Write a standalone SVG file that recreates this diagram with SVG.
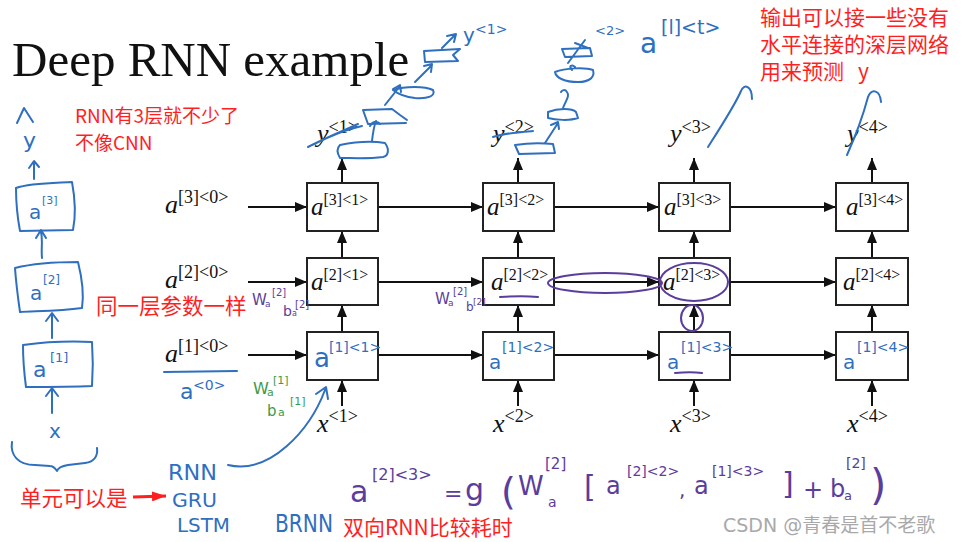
<svg xmlns="http://www.w3.org/2000/svg" width="964" height="542" viewBox="0 0 964 542">
<style>
.box{fill:#fff;stroke:#222;stroke-width:2}
.conn{stroke:#111;stroke-width:2;fill:none;marker-end:url(#ah)}
.m{font-family:"Liberation Serif",serif;fill:#111}
.it{font-style:italic}
.red{font-family:"Noto Sans CJK SC",sans-serif;fill:#ff1f1f}
.hb{stroke:#2f6fbf;fill:none;stroke-width:2;stroke-linecap:round;stroke-linejoin:round}
.hbt{font-family:"DejaVu Sans",sans-serif;fill:#2f6fbf}
.hp{stroke:#5b3d9c;fill:none;stroke-width:2;stroke-linecap:round;stroke-linejoin:round}
.hpt{font-family:"DejaVu Sans",sans-serif;fill:#5b3d9c}
.hgt{font-family:"DejaVu Sans",sans-serif;fill:#3d9a48}
</style>
<defs>
<marker id="ah" markerUnits="userSpaceOnUse" markerWidth="12" markerHeight="10" refX="12" refY="5" orient="auto"><path d="M0,0 L12,5 L0,10 z" fill="#111"/></marker>
<marker id="ahr" markerUnits="userSpaceOnUse" markerWidth="14" markerHeight="10" refX="14" refY="5" orient="auto"><path d="M0,0 L14,5 L0,10 z" fill="#ff1f1f"/></marker>
</defs>
<rect width="964" height="542" fill="#fff"/>
<text x="12" y="76" font-family="Liberation Serif,serif" font-size="49" fill="#111">Deep RNN example</text>

<!-- connectors -->
<g id="connectors">
<line class="conn" x1="248" y1="207" x2="307" y2="207"/>
<line class="conn" x1="248" y1="282" x2="307" y2="282"/>
<line class="conn" x1="248" y1="355" x2="307" y2="355"/>
<line class="conn" x1="378" y1="207" x2="483" y2="207"/>
<line class="conn" x1="554" y1="207" x2="659" y2="207"/>
<line class="conn" x1="730" y1="207" x2="836" y2="207"/>
<line class="conn" x1="378" y1="282" x2="483" y2="282"/>
<line class="conn" x1="554" y1="282" x2="659" y2="282"/>
<line class="conn" x1="730" y1="282" x2="836" y2="282"/>
<line class="conn" x1="378" y1="355" x2="483" y2="355"/>
<line class="conn" x1="554" y1="355" x2="659" y2="355"/>
<line class="conn" x1="730" y1="355" x2="836" y2="355"/>
<line class="conn" x1="342" y1="406" x2="342" y2="380"/>
<line class="conn" x1="342" y1="332" x2="342" y2="305"/>
<line class="conn" x1="342" y1="258" x2="342" y2="231"/>
<line class="conn" x1="342" y1="183" x2="342" y2="158"/>
<line class="conn" x1="518" y1="406" x2="518" y2="380"/>
<line class="conn" x1="518" y1="332" x2="518" y2="305"/>
<line class="conn" x1="518" y1="258" x2="518" y2="231"/>
<line class="conn" x1="518" y1="183" x2="518" y2="158"/>
<line class="conn" x1="694" y1="406" x2="694" y2="380"/>
<line class="conn" x1="694" y1="332" x2="694" y2="305"/>
<line class="conn" x1="694" y1="258" x2="694" y2="231"/>
<line class="conn" x1="694" y1="183" x2="694" y2="158"/>
<line class="conn" x1="872" y1="406" x2="872" y2="380"/>
<line class="conn" x1="872" y1="332" x2="872" y2="305"/>
<line class="conn" x1="872" y1="258" x2="872" y2="231"/>
<line class="conn" x1="872" y1="183" x2="872" y2="158"/>
</g>

<!-- initial activations -->
<g id="a3_0"><text class="m" x="165" y="213"><tspan class="it" font-size="26">a</tspan><tspan font-size="18" dy="-10">[3]&lt;0&gt;</tspan></text></g>
<g id="a2_0"><text class="m" x="165" y="288"><tspan class="it" font-size="26">a</tspan><tspan font-size="18" dy="-10">[2]&lt;0&gt;</tspan></text></g>
<g id="a1_0"><text class="m" x="165" y="362"><tspan class="it" font-size="26">a</tspan><tspan font-size="18" dy="-10">[1]&lt;0&gt;</tspan></text></g>

<!-- layer 3 -->
<g id="a3_1"><rect class="box" x="307" y="183" width="71" height="48"/><text class="m" x="311" y="215"><tspan class="it" font-size="25">a</tspan><tspan font-size="16" dy="-10">[3]&lt;1&gt;</tspan></text></g>
<g id="a3_2"><rect class="box" x="483" y="183" width="71" height="48"/><text class="m" x="487" y="215"><tspan class="it" font-size="25">a</tspan><tspan font-size="16" dy="-10">[3]&lt;2&gt;</tspan></text></g>
<g id="a3_3"><rect class="box" x="659" y="183" width="71" height="48"/><text class="m" x="664" y="215"><tspan class="it" font-size="25">a</tspan><tspan font-size="16" dy="-10">[3]&lt;3&gt;</tspan></text></g>
<g id="a3_4"><rect class="box" x="836" y="183" width="72" height="48"/><text class="m" x="846" y="215"><tspan class="it" font-size="25">a</tspan><tspan font-size="16" dy="-10">[3]&lt;4&gt;</tspan></text></g>
<!-- layer 2 -->
<g id="a2_1"><rect class="box" x="307" y="258" width="71" height="47"/><text class="m" x="311" y="290"><tspan class="it" font-size="25">a</tspan><tspan font-size="16" dy="-10">[2]&lt;1&gt;</tspan></text></g>
<g id="a2_2"><rect class="box" x="483" y="258" width="71" height="47"/><text class="m" x="491" y="290"><tspan class="it" font-size="25">a</tspan><tspan font-size="16" dy="-10">[2]&lt;2&gt;</tspan></text></g>
<g id="a2_3"><rect class="box" x="659" y="258" width="71" height="47"/><text class="m" x="663" y="290"><tspan class="it" font-size="25">a</tspan><tspan font-size="16" dy="-10">[2]&lt;3&gt;</tspan></text></g>
<g id="a2_4"><rect class="box" x="836" y="258" width="72" height="47"/><text class="m" x="843" y="290"><tspan class="it" font-size="25">a</tspan><tspan font-size="16" dy="-10">[2]&lt;4&gt;</tspan></text></g>
<!-- layer 1 (handwritten labels) -->
<g id="a1_1"><rect class="box" x="307" y="332" width="71" height="48"/><text class="hbt" x="314" y="367" font-size="26">a</text><text class="hbt" x="329" y="352" font-size="14">[1]&lt;1&gt;</text></g>
<g id="a1_2"><rect class="box" x="483" y="332" width="71" height="48"/><text class="hbt" x="489" y="369" font-size="20">a</text><text class="hbt" x="502" y="352" font-size="14">[1]&lt;2&gt;</text></g>
<g id="a1_3"><rect class="box" x="659" y="332" width="71" height="48"/><text class="hbt" x="667" y="369" font-size="20">a</text><text class="hbt" x="681" y="352" font-size="14">[1]&lt;3&gt;</text></g>
<g id="a1_4"><rect class="box" x="836" y="332" width="72" height="48"/><text class="hbt" x="843" y="369" font-size="20">a</text><text class="hbt" x="857" y="352" font-size="14">[1]&lt;4&gt;</text></g>

<!-- outputs -->
<g id="y1"><text class="m" x="317" y="142"><tspan class="it" font-size="26">y</tspan><tspan font-size="18" dy="-9">&lt;1&gt;</tspan></text></g>
<g id="y2"><text class="m" x="493" y="142"><tspan class="it" font-size="26">y</tspan><tspan font-size="18" dy="-9">&lt;2&gt;</tspan></text></g>
<g id="y3"><text class="m" x="670" y="142"><tspan class="it" font-size="26">y</tspan><tspan font-size="18" dy="-9">&lt;3&gt;</tspan></text></g>
<g id="y4"><text class="m" x="847" y="142"><tspan class="it" font-size="26">y</tspan><tspan font-size="18" dy="-9">&lt;4&gt;</tspan></text></g>
<!-- inputs -->
<g id="x1"><text class="m" x="317" y="432"><tspan class="it" font-size="26">x</tspan><tspan font-size="18" dy="-10">&lt;1&gt;</tspan></text></g>
<g id="x2"><text class="m" x="493" y="432"><tspan class="it" font-size="26">x</tspan><tspan font-size="18" dy="-10">&lt;2&gt;</tspan></text></g>
<g id="x3"><text class="m" x="670" y="432"><tspan class="it" font-size="26">x</tspan><tspan font-size="18" dy="-10">&lt;3&gt;</tspan></text></g>
<g id="x4"><text class="m" x="847" y="432"><tspan class="it" font-size="26">x</tspan><tspan font-size="18" dy="-10">&lt;4&gt;</tspan></text></g>

<!-- red annotations -->
<text class="red" x="75" y="123" font-size="19">RNN有3层就不少了</text>
<text class="red" x="75" y="150" font-size="19">不像CNN</text>
<text class="red" x="760" y="25" font-size="21">输出可以接一些没有</text>
<text class="red" x="760" y="52" font-size="21">水平连接的深层网络</text>
<text class="red" x="760" y="79" font-size="21">用来预测<tspan x="858">y</tspan></text>
<text class="red" x="96" y="314" font-size="21.5">同一层参数一样</text>
<text class="red" x="20" y="506" font-size="21.5">单元可以是</text>
<line x1="133" y1="497" x2="166" y2="496" stroke="#ff1f1f" stroke-width="3" marker-end="url(#ahr)"/>
<text class="red" x="343" y="535" font-size="21">双向RNN比较耗时</text>

<!-- left handwritten stack -->
<g id="stack">
<path class="hb" d="M17,123 L24,108 L33,122"/>
<text class="hbt" x="23" y="148" font-size="22">y</text>
<path class="hb" d="M34,179 L34,162 M29,168 L34,161 L39,167"/>
<path class="hb" d="M16,188 C30,183 55,183 72,182 C75,198 76,215 73,230 L20,231 C17,215 16,200 16,188 Z"/>
<text class="hbt" x="29" y="219" font-size="20">a</text><text class="hbt" x="42" y="204" font-size="11">[3]</text>
<path class="hb" d="M42,258 C41,248 43,240 41,232 M36,238 L41,230 L46,238"/>
<path class="hb" d="M15,268 C35,263 60,262 78,262 C82,278 84,295 82,308 C60,311 38,311 20,312 C18,298 16,282 15,268"/>
<text class="hbt" x="30" y="300" font-size="20">a</text><text class="hbt" x="43" y="284" font-size="12">[2]</text>
<path class="hb" d="M52,338 L52,314 M46,321 L52,313 L58,321"/>
<path class="hb" d="M23,345 C45,342 70,341 92,342 C93,356 93,372 92,386 C70,387 45,387 26,387 C24,372 23,358 23,345"/>
<text class="hbt" x="33" y="377" font-size="22">a</text><text class="hbt" x="50" y="362" font-size="13">[1]</text>
<path class="hb" d="M52,413 L52,389 M46,396 L52,388 L58,396"/>
<text class="hbt" x="49" y="438" font-size="20">x</text>
<path class="hb" d="M12,442 C10,455 18,465 35,465 L50,466 C53,466 55,468 57,471 C58,468 62,466 68,465 L85,463 C95,462 98,455 97,448"/>
</g>

<!-- blue handwriting -->
<path class="hb" d="M164,372 L237,371"/>
<text class="hbt" x="180" y="399" font-size="22">a</text><text class="hbt" x="193" y="390" font-size="14">&lt;0&gt;</text>
<text class="hbt" x="168" y="480" font-size="22" textLength="49" lengthAdjust="spacingAndGlyphs">RNN</text>
<text class="hbt" x="172" y="507" font-size="20" textLength="45" lengthAdjust="spacingAndGlyphs">GRU</text>
<text class="hbt" x="177" y="532" font-size="20" textLength="53" lengthAdjust="spacingAndGlyphs">LSTM</text>
<text class="hbt" x="275" y="532" font-size="24" textLength="58" lengthAdjust="spacingAndGlyphs">BRNN</text>
<path class="hb" d="M228,465 C270,475 310,430 325,390 M316,394 L326,387 L328,399"/>

<!-- top scribbles -->
<path class="hb" d="M308,147 C325,138 345,130 358,124 M312,145 C330,136 348,129 362,126"/>
<path class="hb" d="M340,145 C355,142 372,141 385,143 C390,150 388,156 383,157 C368,159 352,158 340,158 C337,153 337,148 340,145 Z"/>
<path class="hb" d="M372,141 C373,132 374,126 376,121 M370,126 C372,122 376,120 380,124"/>
<path class="hb" d="M363,110 L392,109 L400,115 L407,120 M363,110 L368,124 L406,123"/>
<path class="hb" d="M385,105 L400,86 M393,89 L400,85 L401,92"/>
<path class="hb" d="M393,90 C405,86 425,86 433,90 C436,96 428,99 415,98 C405,97 398,94 393,90 Z"/>
<path class="hb" d="M415,82 L432,65 M424,66 L432,64 L431,72"/>
<path class="hb" d="M424,51 L460,49 L453,55 L458,61 L425,62 Z"/>
<path class="hb" d="M442,48 L455,35 M447,36 L456,34 L454,42"/>
<text class="hbt" x="463" y="42" font-size="20">y</text><text class="hbt" x="475" y="34" font-size="14">&lt;1&gt;</text>

<path class="hb" d="M493,137 C505,133 520,132 533,131"/>
<path class="hb" d="M515,145 C528,143 542,143 553,144 L555,153 L519,154 Z"/>
<path class="hb" d="M545,143 L558,123 M551,125 L558,122 L559,129"/>
<path class="hb" d="M548,112 C558,108 572,108 576,112 L578,118 C570,121 555,120 548,118 Z"/>
<path class="hb" d="M563,108 C566,100 570,96 567,92 C565,89 562,90 561,92"/>
<path class="hb" d="M555,72 C565,68 585,67 593,70 C595,77 590,82 578,82 C565,82 556,78 555,72 Z M572,70 C568,66 572,64 575,67"/>
<path class="hb" d="M562,49 L590,48 L592,56 L565,57 Z M568,63 L585,40 M575,43 L588,48"/>
<text class="hbt" x="595" y="35" font-size="13">&lt;2&gt;</text>

<text class="hbt" x="640" y="53" font-size="28">a</text><text class="hbt" x="661" y="34" font-size="19">[l]&lt;t&gt;</text>
<path class="hb" d="M708,147 C722,125 735,105 741,91 C744,83 752,86 752,99"/>
<path class="hb" d="M847,155 C856,135 864,112 868,97 C872,88 880,90 881,102"/>

<!-- purple -->
<ellipse class="hp" cx="605" cy="283" rx="57" ry="10"/>
<ellipse class="hp" cx="694" cy="282" rx="34" ry="19"/>
<ellipse class="hp" cx="692" cy="318" rx="11" ry="13"/>
<path class="hp" d="M500,297 C515,296 528,296 538,297"/>
<path class="hp" d="M675,373 C685,372 695,372 702,373"/>
<text class="hpt" x="252" y="305" font-size="15">W</text><text class="hpt" x="265" y="307" font-size="9">a</text><text class="hpt" x="272" y="296" font-size="10">[2]</text>
<text class="hpt" x="283" y="316" font-size="14">b</text><text class="hpt" x="292" y="316" font-size="8">a</text><text class="hpt" x="295" y="308" font-size="10">[2]</text>
<text class="hpt" x="435" y="304" font-size="15">W</text><text class="hpt" x="448" y="306" font-size="9">a</text><text class="hpt" x="453" y="295" font-size="10">[2]</text>
<text class="hpt" x="466" y="311" font-size="12">b</text><text class="hpt" x="473" y="305" font-size="9">[2]</text>
<!-- green -->
<text class="hgt" x="253" y="394" font-size="16">W</text><text class="hgt" x="267" y="396" font-size="11">a</text><text class="hgt" x="273" y="384" font-size="11">[1]</text>
<text class="hgt" x="267" y="416" font-size="15">b</text><text class="hgt" x="278" y="416" font-size="11">a</text><text class="hgt" x="290" y="405" font-size="11">[1]</text>

<!-- formula -->
<g id="formula">
<text class="hpt" x="350" y="502" font-size="30">a</text>
<text class="hpt" x="372" y="480" font-size="16">[2]&lt;3&gt;</text>
<text class="hpt" x="444" y="501" font-size="22">=</text>
<text class="hpt" x="465" y="500" font-size="30">g</text>
<text class="hpt" x="501" y="504" font-size="38">(</text>
<text class="hpt" x="518" y="495" font-size="26">W</text>
<text class="hpt" x="548" y="507" font-size="14">a</text>
<text class="hpt" x="545" y="469" font-size="15">[2]</text>
<text class="hpt" x="584" y="497" font-size="30">[</text>
<text class="hpt" x="606" y="494" font-size="24">a</text>
<text class="hpt" x="627" y="476" font-size="14">[2]&lt;2&gt;</text>
<text class="hpt" x="679" y="497" font-size="20">,</text>
<text class="hpt" x="694" y="494" font-size="24">a</text>
<text class="hpt" x="712" y="476" font-size="14">[1]&lt;3&gt;</text>
<text class="hpt" x="782" y="494" font-size="30">]</text>
<text class="hpt" x="803" y="498" font-size="24">+</text>
<text class="hpt" x="830" y="497" font-size="24">b</text>
<text class="hpt" x="844" y="500" font-size="13">a</text>
<text class="hpt" x="846" y="468" font-size="14">[2]</text>
<text class="hpt" x="870" y="500" font-size="42">)</text>
</g>

<text x="723" y="532" font-family="DejaVu Sans,Noto Sans CJK SC,sans-serif" font-size="19" fill="#a9a9a9">CSDN @青春是首不老歌</text>
</svg>
